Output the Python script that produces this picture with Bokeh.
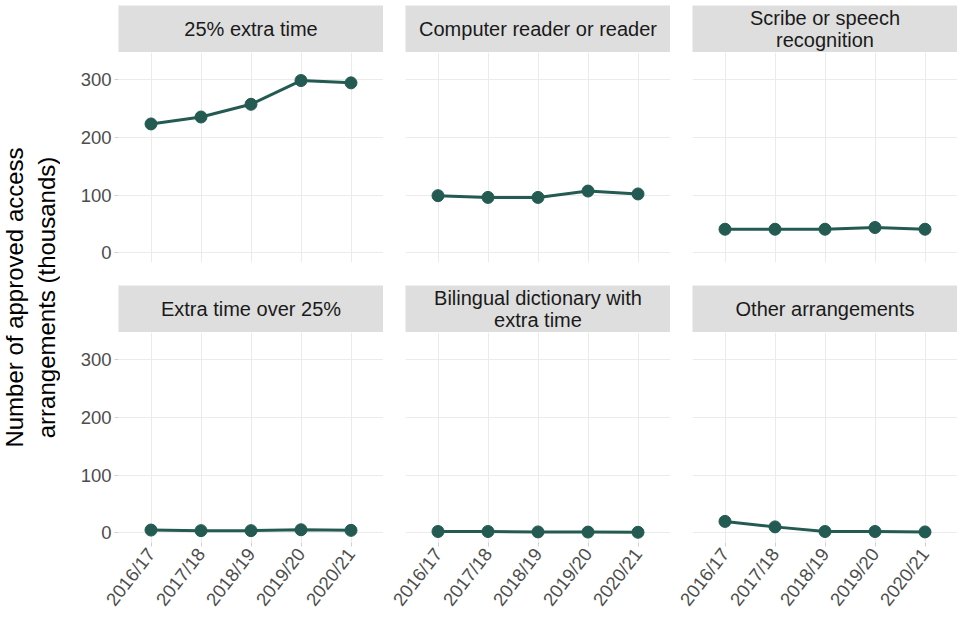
import math
from bokeh.plotting import figure
from bokeh.layouts import row, column
from bokeh.models import Range1d, FactorRange, FixedTicker, CategoricalTicker
from bokeh.core.properties import value
from bokeh.embed import file_html
from bokeh.resources import INLINE

# ---- data ----
years = ["2016/17", "2017/18", "2018/19", "2019/20", "2020/21"]
panel_titles = [
    "25% extra time",
    "Computer reader or reader",
    "Scribe or speech\nrecognition",
    "Extra time over 25%",
    "Bilingual dictionary with\nextra time",
    "Other arrangements",
]
extra_time_25 = [223, 235, 257, 298, 294]
computer_reader = [99, 96, 96, 107, 102]
scribe_speech = [41, 41, 41, 44, 41]
extra_time_over_25 = [5, 4, 4, 5.5, 4.5]
bilingual_dictionary = [2.5, 2.5, 1.8, 1.5, 1.2]
other_arrangements = [20, 10.5, 2.5, 2.5, 1.8]
series = [extra_time_25, computer_reader, scribe_speech,
          extra_time_over_25, bilingual_dictionary, other_arrangements]
y_ticks = [0, 100, 200, 300]
y_title = "Number of approved access\narrangements (thousands)"

# ---- style ----
FONT = "Liberation Sans"
LINE_C = "#235a52"
GRID_C = "#ebebeb"
STRIP_C = "#dedede"
TICK_C = "#4d4d4d"

YL_W = 60       # width of the y-title column
L_BORDER = 58   # left border of first column (room for y axis)
GAP = 22        # gap between panel columns
FRAME_W = 265
FRAME_H = 210
TOP_PAD = 5
STRIP_H = 47
ROW_GAP = 23
BOTTOM_H = 80


def strip(title, left, top):
    lb = L_BORDER if left else GAP
    tp = TOP_PAD if top else 0
    s = figure(width=lb + FRAME_W, height=STRIP_H + tp,
               x_range=Range1d(-1, 1), y_range=Range1d(-1, 1),
               x_axis_location=None, y_axis_location=None,
               min_border_left=lb, min_border_right=0,
               min_border_top=tp, min_border_bottom=0,
               background_fill_color=STRIP_C, border_fill_color="white",
               outline_line_color=None,
               output_backend="svg", toolbar_location=None)
    s.grid.visible = False
    s.text(x=[0], y=[0], text=[title], text_align="center",
           text_baseline="middle", text_font=value(FONT),
           text_font_size="20px", text_line_height=1.0, text_color="#1a1a1a")
    return s


def panel(vals, left, bottom):
    lb = L_BORDER if left else GAP
    bb = BOTTOM_H if bottom else ROW_GAP
    p = figure(width=lb + FRAME_W, height=FRAME_H + bb,
               x_range=FactorRange(factors=years, range_padding=0.15,
                                   range_padding_units="absolute"),
               y_range=Range1d(-16.5, 346.5),
               x_axis_location="below" if bottom else None,
               y_axis_location="left" if left else None,
               min_border_left=lb, min_border_right=0,
               min_border_top=0, min_border_bottom=bb,
               background_fill_color="white", border_fill_color="white",
               outline_line_color=None,
               output_backend="svg", toolbar_location=None)
    p.xgrid.ticker = CategoricalTicker()
    p.ygrid.ticker = FixedTicker(ticks=y_ticks)
    p.grid.grid_line_color = GRID_C
    p.grid.grid_line_width = 1
    if left:
        ax = p.yaxis[0]
        ax.ticker = FixedTicker(ticks=y_ticks)
        ax.axis_line_color = None
        ax.major_tick_line_color = "#d0d0d0"
        ax.major_tick_in = 0
        ax.major_tick_out = 4
        ax.minor_tick_line_color = None
        ax.major_label_standoff = 3
        ax.major_label_text_font = FONT
        ax.major_label_text_font_size = "18.5px"
        ax.major_label_text_color = TICK_C
    if bottom:
        ax = p.xaxis[0]
        ax.axis_line_color = None
        ax.major_tick_line_color = "#d0d0d0"
        ax.major_tick_in = 0
        ax.major_tick_out = 4
        ax.minor_tick_line_color = None
        ax.major_label_orientation = math.radians(52)
        ax.major_label_standoff = 4
        ax.major_label_text_font = FONT
        ax.major_label_text_font_size = "18.5px"
        ax.major_label_text_color = TICK_C
    p.line(x=years, y=vals, line_width=3, line_color=LINE_C)
    p.scatter(x=years, y=vals, size=12, fill_color=LINE_C, line_color=LINE_C)
    return p


cols = []
for c in range(3):
    left = c == 0
    cols.append(column(
        strip(panel_titles[c], left, True),
        panel(series[c], left, False),
        strip(panel_titles[c + 3], left, False),
        panel(series[c + 3], left, True),
    ))

total_h = TOP_PAD + STRIP_H + FRAME_H + ROW_GAP + STRIP_H + FRAME_H + BOTTOM_H
yl = figure(width=YL_W, height=total_h,
            x_range=Range1d(-1, 1), y_range=Range1d(-1, 1),
            x_axis_location=None, y_axis_location=None,
            min_border_left=0, min_border_right=0,
            min_border_top=TOP_PAD + STRIP_H, min_border_bottom=BOTTOM_H,
            background_fill_color="white", border_fill_color="white",
            outline_line_color=None,
            output_backend="svg", toolbar_location=None)
yl.grid.visible = False
yl.text(x=[0], y=[0], text=[y_title], angle=math.pi / 2,
        text_align="center", text_baseline="middle",
        text_font=value(FONT), text_font_size="24px",
        text_line_height=1.2, text_color="black")

layout = row(yl, *cols)
open("out.html", "w").write(file_html(layout, INLINE))
